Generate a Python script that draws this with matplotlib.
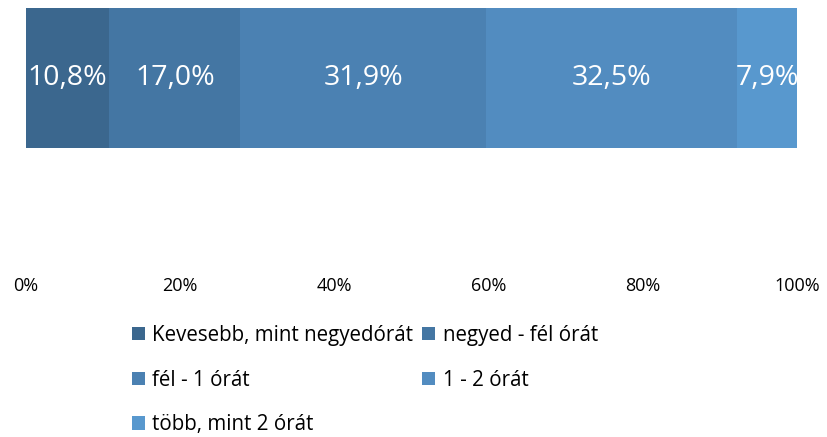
import matplotlib
matplotlib.use("Agg")
import matplotlib.pyplot as plt
from matplotlib.patches import Patch

categories = ["Kevesebb, mint negyedórát", "negyed - fél órát", "fél - 1 órát",
              "1 - 2 órát", "több, mint 2 órát"]
values = [10.8, 17.0, 31.9, 32.5, 7.9]
colors = ["#3B678E", "#4476A3", "#4B81B2", "#528CC0", "#5898CE"]
xticks = [0, 20, 40, 60, 80, 100]
xticklabels = ["0%", "20%", "40%", "60%", "80%", "100%"]

plt.rcParams['font.family'] = ['Open Sans', 'DejaVu Sans']

W, H = 827, 437
fig = plt.figure(figsize=(W/100, H/100), dpi=100)
ax = fig.add_axes([26/W, 1-270/H, (797-26)/W, (270-8)/H])

left = 0
handles = []
for cat, v, c in zip(categories, values, colors):
    ax.barh(0, v, left=left, height=0.8, color=c, edgecolor='none')
    ax.text(left + v/2, 0, f"{v:.1f}%".replace('.', ','), ha='center', va='center',
            color='white', fontsize=20.5)
    handles.append(Patch(facecolor=c, edgecolor='none', label=cat))
    left += v

barh_px = 140
axh_px = 270 - 8
rng = 0.8 * axh_px / barh_px
ax.set_ylim(0.4 - rng, 0.4)
ax.set_xlim(0, 100)
ax.set_xticks(xticks)
ax.set_xticklabels(xticklabels, fontsize=13, color='#000000')
ax.tick_params(axis='x', length=0, pad=5)
ax.set_yticks([])
for s in ax.spines.values():
    s.set_visible(False)

order = [0, 2, 4, 1, 3]
leg = fig.legend([handles[i] for i in order], [categories[i] for i in order],
                 ncol=2, loc='upper left', bbox_to_anchor=(132/W, 1-325/H),
                 frameon=False, fontsize=14.8, handlelength=0.62, handleheight=0.62,
                 handletextpad=0.36, columnspacing=0.45, labelspacing=1.15,
                 borderaxespad=0, borderpad=0)

fig.savefig("out.png", dpi=100)
